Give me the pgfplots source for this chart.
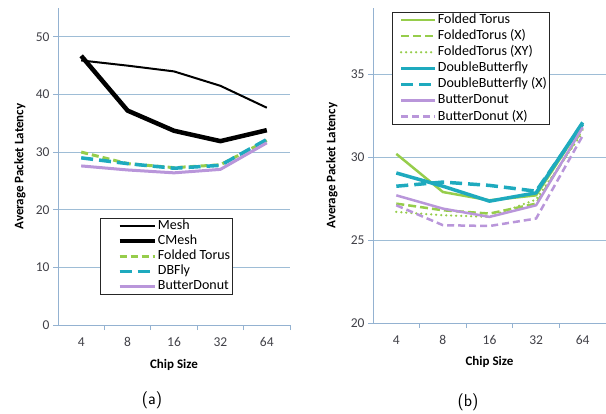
\documentclass[border=0pt]{standalone}
\usepackage{fontspec}
\setmainfont{Carlito}
\usepackage{pgfplots}
\pgfplotsset{compat=1.18}

\definecolor{gridc}{rgb}{0.62,0.74,0.84}
\definecolor{axc}{rgb}{0.58,0.70,0.82}
\definecolor{ticklab}{rgb}{0.25,0.25,0.28}
\definecolor{ftgreen}{RGB}{150,205,75}
\definecolor{dbteal}{RGB}{30,170,190}
\definecolor{lav}{RGB}{185,150,218}

\pgfplotsset{
  excel/.style={
    scale only axis,
    axis lines=left,
    axis line style={-, draw=axc, line width=0.8pt},
    tick align=outside,
    major tick length=5pt,
    minor tick length=5pt,
    major x tick style={draw=none},
    minor x tick style={draw=axc, line width=0.8pt},
    major y tick style={draw=axc, line width=0.8pt},
    ymajorgrids,
    grid style={draw=gridc, line width=0.8pt},
    xmin=-0.5, xmax=4.5,
    xtick={0,...,4},
    xticklabels={4,8,16,32,64},
    minor xtick={0.5,1.5,2.5,3.5,4.5},
    ticklabel style={font=\fontsize{13.5}{13.5}\selectfont, text=ticklab},
    xticklabel style={yshift=-4pt},
    /pgf/number format/assume math mode=true,
    xlabel={Chip Size},
    ylabel={Average Packet Latency},
    label style={font=\bfseries\fontsize{13}{13}\selectfont, text=black},
    legend cell align=left,
    legend style={draw=black!85, line width=0.8pt, fill=white,
      font=\fontsize{14}{14}\selectfont,
      inner xsep=1pt, inner ysep=1pt,
      nodes={inner xsep=1pt, inner ysep=0pt, text height=10pt, text depth=3.3pt},
      /tikz/every even column/.append style={column sep=0pt}},
    every axis plot/.append style={line join=round},
  }
}

\begin{document}
\begin{tikzpicture}[x=1pt,y=1pt]
\useasboundingbox (0,0) rectangle (606,413);

% ---------- (a) ----------
\begin{axis}[excel,
  at={(58pt,88pt)}, anchor=south west,
  width=232pt, height=317pt,
  ymin=0, ymax=55,
  ytick={0,10,20,30,40,50},
  xlabel style={at={(axis description cs:0.5,-0.126)}, anchor=center},
  ylabel style={at={(axis description cs:-0.164,0.5)}, anchor=center},
  legend style={at={(0.181,0.3375)}, anchor=north west, row sep=1.8pt},
  legend image code/.code={\path (0pt,0pt); \draw[#1] (16pt,0pt) -- (51pt,0pt);},
]
\addplot[black, line width=2pt] coordinates {(0,45.9)(1,45.0)(2,44.0)(3,41.5)(4,37.7)};
\addlegendentry{Mesh}
\addplot[black, line width=4.5pt] coordinates {(0,46.7)(1,37.2)(2,33.7)(3,31.9)(4,33.8)};
\addlegendentry{CMesh}
\addplot[ftgreen, line width=3pt, dash pattern=on 7pt off 4pt] coordinates {(0,30.0)(1,28.0)(2,27.3)(3,27.8)(4,32.0)};
\addlegendentry{Folded Torus}
\addplot[dbteal, line width=3.5pt, dash pattern=on 12pt off 6pt] coordinates {(0,29.0)(1,28.0)(2,27.2)(3,27.7)(4,32.2)};
\addlegendentry{DBFly}
\addplot[lav, line width=3pt] coordinates {(0,27.6)(1,26.9)(2,26.4)(3,27.0)(4,31.6)};
\addlegendentry{ButterDonut}
\end{axis}

% ---------- (b) ----------
\begin{axis}[excel,
  at={(373pt,90pt)}, anchor=south west,
  width=233pt, height=315pt,
  ymin=20, ymax=39,
  ytick={20,25,30,35},
  xlabel style={at={(axis description cs:0.5,-0.124)}, anchor=center},
  ylabel style={at={(axis description cs:-0.176,0.5)}, anchor=center},
  legend style={at={(0.0815,0.987)}, anchor=north west, row sep=2.8pt},
  legend image code/.code={\path (0pt,0pt); \draw[#1] (6pt,0pt) -- (40pt,0pt);},
]
\addplot[ftgreen, line width=2.5pt] coordinates {(0,30.2)(1,27.9)(2,27.4)(3,27.7)(4,32.0)};
\addlegendentry{Folded Torus}
\addplot[ftgreen, line width=2.5pt, dash pattern=on 8pt off 4pt] coordinates {(0,27.2)(1,26.8)(2,26.6)(3,27.2)(4,31.7)};
\addlegendentry{FoldedTorus (X)}
\addplot[ftgreen, line width=2.5pt, line cap=round, dash pattern=on 0pt off 5pt] coordinates {(0,26.7)(1,26.5)(2,26.4)(3,27.45)(4,31.5)};
\addlegendentry{FoldedTorus (XY)}
\addplot[dbteal, line width=3.5pt] coordinates {(0,29.05)(1,28.25)(2,27.35)(3,27.85)(4,32.1)};
\addlegendentry{DoubleButterfly}
\addplot[dbteal, line width=3.5pt, dash pattern=on 12pt off 6pt] coordinates {(0,28.25)(1,28.5)(2,28.3)(3,27.95)(4,32.0)};
\addlegendentry{DoubleButterfly (X)}
\addplot[lav, line width=2.5pt] coordinates {(0,27.7)(1,26.9)(2,26.4)(3,27.1)(4,31.8)};
\addlegendentry{ButterDonut}
\addplot[lav, line width=2.5pt, dash pattern=on 7pt off 4pt] coordinates {(0,27.1)(1,25.9)(2,25.85)(3,26.3)(4,31.3)};
\addlegendentry{ButterDonut (X)}
\end{axis}

\node[font=\sffamily\fontsize{17}{17}\selectfont] at (152,13) {(a)};
\node[font=\sffamily\fontsize{17}{17}\selectfont] at (468,11) {(b)};
\end{tikzpicture}
\end{document}
